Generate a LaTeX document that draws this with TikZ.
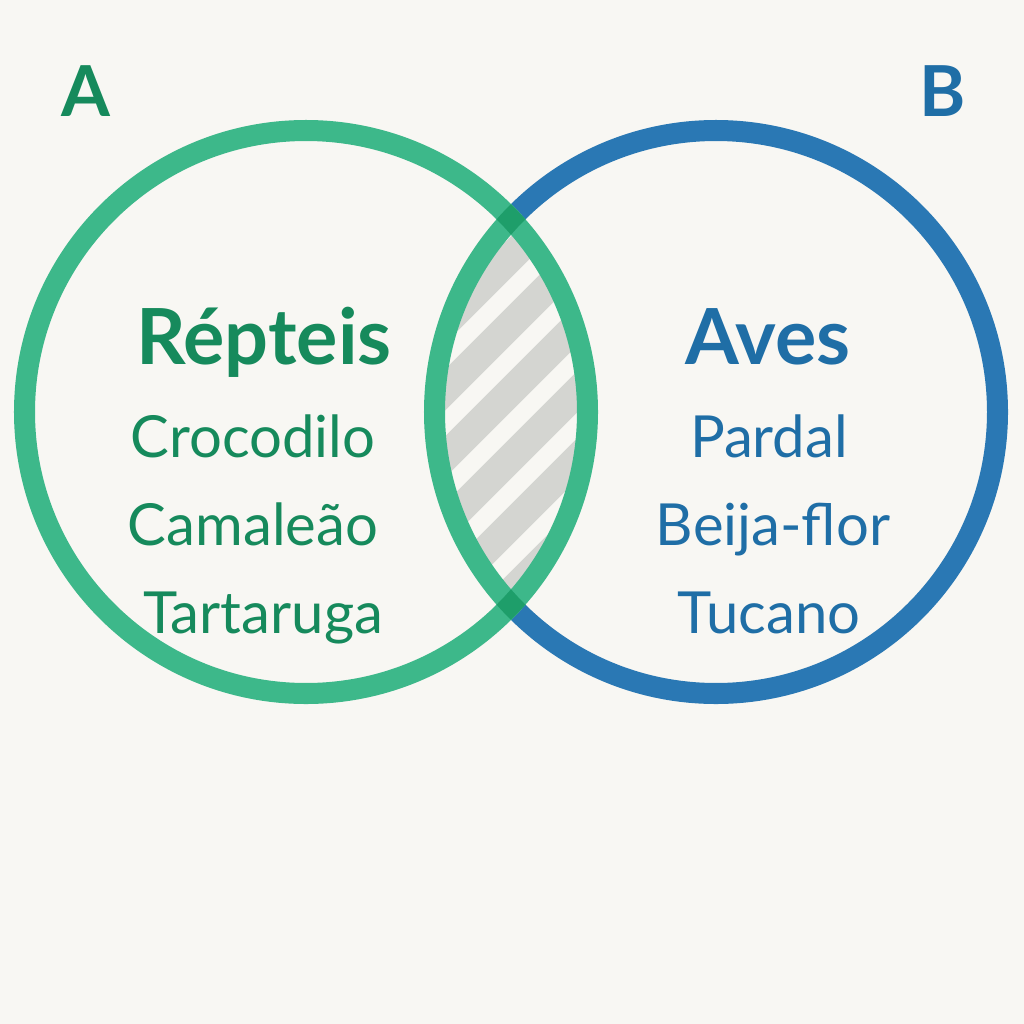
\documentclass[tikz,border=0pt]{standalone}
\usepackage{fontspec}
\setmainfont{Lato}
\definecolor{bgcol}{HTML}{F8F7F3}
\definecolor{ringgreen}{HTML}{3DB88A}
\definecolor{crossgreen}{HTML}{1E9E6A}
\definecolor{ringblue}{HTML}{2A78B4}
\definecolor{txtgreen}{HTML}{168A5C}
\definecolor{txtblue}{HTML}{1F6EA6}
\definecolor{stripegray}{HTML}{D4D5D1}

\begin{document}
\begin{tikzpicture}[x=0.01cm, y=-0.01cm,
    ring/.style={line width=0.21cm},
    letter/.style={anchor=base, font=\fontsize{20}{24}\selectfont\bfseries},
    head/.style={anchor=base, font=\fontsize{22}{26}\selectfont\bfseries},
    item/.style={anchor=base, font=\fontsize{16.5}{19}\selectfont}]
  \fill[bgcol] (0,0) rectangle (1024,1024);
  \useasboundingbox (0,0) rectangle (1024,1024);
  \coordinate (cA) at (306,412);
  \coordinate (cB) at (716,412);
  % stripes in the overlap
  \begin{scope}
    \clip (cA) circle (281.5);
    \clip (cB) circle (281.5);
    \foreach \c in {701,768,...,1170}{ \draw[stripegray, line width=0.29cm] (\c-100,100) -- (\c-900,900); }
  \end{scope}
  \begin{scope}[even odd rule]
    \clip (0,0) rectangle (1024,1024) (cA) circle (292);
    \draw[ring, ringblue] (cB) circle (281.5);
  \end{scope}
  \begin{scope}
    \clip (cA) circle (292);
    \draw[ring, ringgreen] (cB) circle (281.5);
  \end{scope}
  \draw[ring, ringgreen] (cA) circle (281.5);
  % darker where the two rings cross
  \begin{scope}[even odd rule]
    \clip (cB) circle (292) (cB) circle (271);
    \draw[ring, crossgreen] (cA) circle (281.5);
  \end{scope}
  \node[letter, txtgreen] (A) at (86,116) {A};
  \node[letter, txtblue] (B) at (943,116) {B};
  \node[head, txtgreen] (repteis) at (264,364) {Répteis};
  \node[head, txtblue] (aves) at (768,364) {Aves};
  \foreach \name/\t/\x/\y in {croc/Crocodilo/253/457, cama/Camaleão/253/545, tart/Tartaruga/263/633}{
    \node[item, txtgreen] (\name) at (\x,\y) {\t}; }
  \foreach \name/\t/\x/\y in {pard/Pardal/769/457, beij/Beija-flor/773/545, tuca/Tucano/769/633}{
    \node[item, txtblue] (\name) at (\x,\y) {\t}; }
\end{tikzpicture}
\end{document}
